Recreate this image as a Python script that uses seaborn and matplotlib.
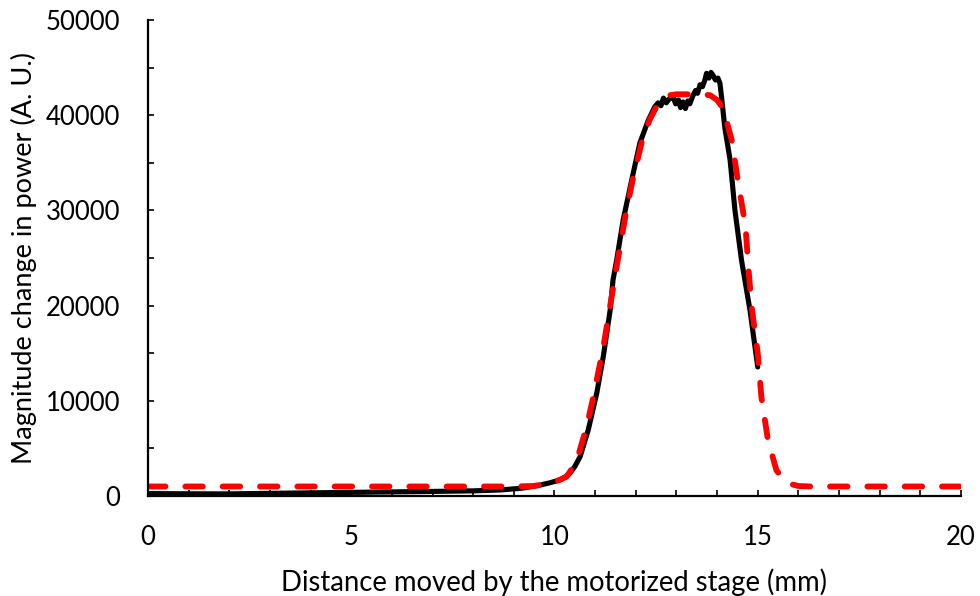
import matplotlib
matplotlib.use("Agg")
import matplotlib.pyplot as plt
import seaborn as sns
import pandas as pd
from matplotlib.ticker import MultipleLocator

# Measured signal (black solid)
meas_x = [0, 1, 2, 3, 4, 5, 6, 7, 8, 8.66, 9.2, 9.6, 9.9, 10.14, 10.25, 10.38, 10.5, 10.63,
          10.83, 11.04, 11.2, 11.37, 11.44, 11.53, 11.69, 11.9, 12.1, 12.31, 12.47, 12.55,
          12.62, 12.68, 12.75, 12.82, 12.92, 12.98, 13.05, 13.1, 13.16, 13.22, 13.28, 13.33,
          13.4, 13.47, 13.52, 13.58, 13.64, 13.7, 13.74, 13.8, 13.85, 13.9, 13.96, 14.02,
          14.07, 14.11, 14.19, 14.32, 14.44, 14.6, 14.81, 15.0]
meas_y = [250, 230, 220, 280, 330, 380, 430, 480, 540, 630, 820, 1100, 1400, 1700, 1950,
          2400, 3100, 4130, 6930, 10800, 14630, 19540, 22690, 24800, 29000, 33200, 37080,
          39500, 40900, 41300, 41000, 41800, 41300, 41700, 41900, 41200, 41600, 40800, 41400,
          40700, 41500, 41200, 42000, 42600, 42300, 43200, 43000, 43700, 44400, 43900, 44500,
          44200, 43700, 43900, 43350, 41900, 38700, 35300, 30000, 24800, 19500, 13550]

# Fitted curve (red dashed)
fit_x = [0, 2, 4, 6, 8, 9, 9.47, 9.8, 10.05, 10.3, 10.54, 10.79, 10.95, 11.2, 11.53, 11.77,
         11.94, 12.18, 12.35, 12.51, 12.65, 12.84, 13.0, 13.3, 13.6, 13.83, 14.0, 14.15, 14.36,
         14.52, 14.7, 14.77, 14.85, 15.0, 15.09, 15.25, 15.46, 15.71, 16.0, 16.3, 18, 20]
fit_y = [1000, 1000, 1000, 1000, 1000, 1000, 1050, 1250, 1550, 2030, 3600, 7280, 10300, 15600,
         24100, 30040, 33540, 37740, 39600, 40900, 41600, 42100, 42200, 42200, 42200, 42100,
         41600, 40700, 37400, 32900, 28300, 24000, 19900, 15000, 10400, 5900, 2700, 1360,
         1050, 1000, 1000, 1000]

x_ticks = [0, 5, 10, 15, 20]
y_ticks = [0, 10000, 20000, 30000, 40000, 50000]

sns.set_theme(style="white")
plt.rcParams['font.family'] = ['Lato', 'DejaVu Sans']

fig = plt.figure(figsize=(9.8, 5.96), dpi=100)
ax = fig.add_axes([0.151, 0.1678, 0.8296, 0.7986])

df_meas = pd.DataFrame({"x": meas_x, "y": meas_y})
df_fit = pd.DataFrame({"x": fit_x, "y": fit_y})

sns.lineplot(data=df_meas, x="x", y="y", ax=ax, color="black", linewidth=3.7,
             sort=False, estimator=None)
sns.lineplot(data=df_fit, x="x", y="y", ax=ax, color="#ff0000", linewidth=4.2,
             sort=False, estimator=None)
red = ax.lines[-1]
red.set_dashes((3.0, 3.4))
red.set_dash_capstyle("round")
ax.lines[0].set_solid_capstyle("round")

ax.set_xlim(0, 20)
ax.set_ylim(0, 50000)
ax.set_xticks(x_ticks)
ax.set_yticks(y_ticks)
ax.set_xticklabels([str(t) for t in x_ticks])
ax.set_yticklabels([str(t) for t in y_ticks])
ax.xaxis.set_minor_locator(MultipleLocator(1))
ax.yaxis.set_minor_locator(MultipleLocator(5000))

for side in ["top", "right"]:
    ax.spines[side].set_visible(False)
for side in ["left", "bottom"]:
    ax.spines[side].set_visible(True)
    ax.spines[side].set_color("black")
    ax.spines[side].set_linewidth(1.6)

ax.tick_params(axis="both", which="both", direction="in", length=4, width=1.2,
               color="black", labelsize=18.5, labelcolor="black")
ax.tick_params(axis="x", which="major", pad=21)
ax.tick_params(axis="y", which="major", pad=20)
ax.tick_params(axis="both", which="both", left=True, bottom=True)

ax.set_xlabel("Distance moved by the motorized stage (mm)", fontsize=19.8, color="black", labelpad=13)
ax.set_ylabel("Magnitude change in power (A. U.)", fontsize=19.5, color="black", labelpad=6)

fig.savefig("out.png", dpi=100)
